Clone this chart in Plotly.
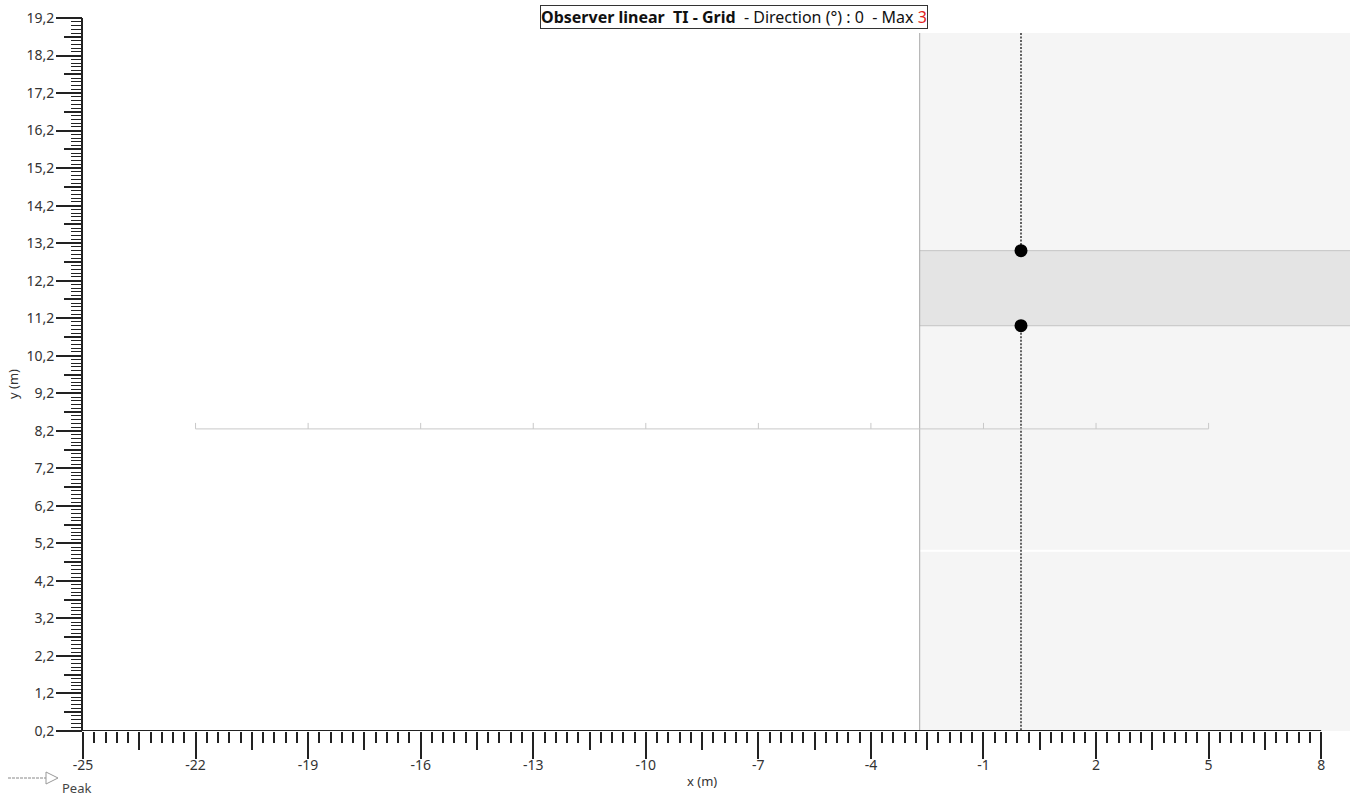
import numpy as np
import plotly.graph_objects as go

# ---------------- data ----------------
x_major = [-25, -22, -19, -16, -13, -10, -7, -4, -1, 2, 5, 8]
y_major = [0.2, 1.2, 2.2, 3.2, 4.2, 5.2, 6.2, 7.2, 8.2, 9.2, 10.2, 11.2, 12.2,
           13.2, 14.2, 15.2, 16.2, 17.2, 18.2, 19.2]
y_labels = [f"{v:.1f}".replace(".", ",") for v in y_major]
x_labels = [str(v) for v in x_major]

observer_x = [0, 0]
observer_y = [11, 13]
peak_lines_lower = [11, 0.2]
peak_lines_upper = [18.8, 13]

zone_x0 = -2.7
zone_y = [0.2, 18.8]
band_y = [11, 13]
white_line_y = 5
ruler_x = [-22, 5]
ruler_y = 8.25
ruler_ticks = [-22, -19, -16, -13, -10, -7, -4, -1, 2, 5]

# ---------------- geometry ----------------
W, H = 1350, 796
ML, MR, MT, MB = 83, 0, 18, 65
PW = W - ML - MR
PH = H - MT - MB
XR = [-25, -25 + PW / 37.52]
YR = [0.2, 19.2]

x_minor = [round(v, 2) for v in np.arange(-25, 8.001, 0.3)]
x_mid = [round(v + 1.5, 2) for v in x_major[:-1]]
y_minor = [round(v, 2) for v in np.arange(0.2, 19.201, 0.1)]
y_mid = [round(v + 0.5, 2) for v in y_major[:-1]]

AX = "#222222"
FONT = "Noto Sans"
CLEAR = "rgba(0,0,0,0)"


def px(xpix):
    return (xpix - ML) / PW


def py(ypix):
    return (H - MB - ypix) / PH


fig = go.Figure()

# dashed "peak" lines
for seg in (peak_lines_upper, peak_lines_lower):
    fig.add_trace(go.Scatter(x=observer_x, y=seg, mode="lines",
                             line=dict(color="black", width=1.2, dash="2px,1.5px"),
                             hoverinfo="skip", showlegend=False))

# observer points
fig.add_trace(go.Scatter(x=observer_x, y=observer_y, mode="markers",
                         marker=dict(color="black", size=13),
                         hoverinfo="skip", showlegend=False))

# ruler
fig.add_trace(go.Scatter(x=ruler_x, y=[ruler_y, ruler_y], mode="lines",
                         line=dict(color="#c8c8c8", width=1),
                         hoverinfo="skip", showlegend=False))
rtx, rty = [], []
for t in ruler_ticks:
    rtx += [t, t, None]
    rty += [ruler_y, ruler_y + 0.16, None]
fig.add_trace(go.Scatter(x=rtx, y=rty, mode="lines",
                         line=dict(color="#c8c8c8", width=1),
                         hoverinfo="skip", showlegend=False))

# dummy traces for overlay axes
fig.add_trace(go.Scatter(x=[], y=[], xaxis="x2", yaxis="y", showlegend=False))
fig.add_trace(go.Scatter(x=[], y=[], xaxis="x3", yaxis="y", showlegend=False))
fig.add_trace(go.Scatter(x=[], y=[], xaxis="x", yaxis="y2", showlegend=False))
fig.add_trace(go.Scatter(x=[], y=[], xaxis="x", yaxis="y3", showlegend=False))

shapes = [
    dict(type="rect", xref="x", yref="y", x0=zone_x0, x1=XR[1], y0=zone_y[0], y1=zone_y[1],
         fillcolor="#f5f5f5", line=dict(width=0), layer="below"),
    dict(type="rect", xref="x", yref="y", x0=zone_x0, x1=XR[1], y0=band_y[0], y1=band_y[1],
         fillcolor="#e4e4e4", line=dict(width=0), layer="below"),
    dict(type="line", xref="x", yref="y", x0=zone_x0, x1=XR[1], y0=band_y[0], y1=band_y[0],
         line=dict(color="#c4c4c4", width=1), layer="below"),
    dict(type="line", xref="x", yref="y", x0=zone_x0, x1=XR[1], y0=band_y[1], y1=band_y[1],
         line=dict(color="#c4c4c4", width=1), layer="below"),
    dict(type="line", xref="x", yref="y", x0=zone_x0, x1=XR[1], y0=white_line_y, y1=white_line_y,
         line=dict(color="#ffffff", width=2), layer="below"),
    dict(type="line", xref="x", yref="y", x0=zone_x0, x1=zone_x0, y0=zone_y[0], y1=zone_y[1],
         line=dict(color="#a8a8a8", width=1), layer="below"),
    # x axis line (ends at last major tick)
    dict(type="line", xref="x", yref="y", x0=x_major[0], x1=x_major[-1], y0=YR[0], y1=YR[0],
         line=dict(color=AX, width=2), layer="above"),
    # Peak legend
    dict(type="line", xref="paper", yref="paper", x0=px(8), x1=px(46), y0=py(778), y1=py(778),
         line=dict(color="#888888", width=1, dash="3px,1px")),
    dict(type="path", xref="paper", yref="paper",
         path=f"M {px(46)},{py(772)} L {px(58)},{py(778)} L {px(46)},{py(784)} Z",
         line=dict(color="#999999", width=1), fillcolor="white"),
]

annotations = [
    dict(xref="paper", yref="paper", x=px(734), y=py(17), xanchor="center", yanchor="middle",
         text="<b>Observer linear\u00a0\u00a0TI - Grid</b>\u00a0\u00a0- Direction (°) : 0\u00a0\u00a0- Max "
              "<span style='color:#e02020'>3</span>",
         showarrow=False, font=dict(size=16, color="#111111", family=FONT),
         bordercolor="#333333", borderwidth=1, borderpad=0, bgcolor="white"),
    dict(xref="paper", yref="paper", x=px(702), y=py(781), xanchor="center", yanchor="middle",
         text="x (m)", showarrow=False, font=dict(size=13, color="#333333", family=FONT)),
    dict(xref="paper", yref="paper", x=px(13), y=py(384), xanchor="center", yanchor="middle",
         text="y (m)", textangle=-90, showarrow=False, font=dict(size=13, color="#333333", family=FONT)),
    dict(xref="paper", yref="paper", x=px(60), y=py(788), xanchor="left", yanchor="middle",
         text="Peak", showarrow=False, font=dict(size=13, color="#444444", family=FONT)),
]

common = dict(showgrid=False, zeroline=False, showline=False, fixedrange=True)

fig.update_layout(
    width=W, height=H,
    margin=dict(l=ML, r=MR, t=MT, b=MB),
    paper_bgcolor="white", plot_bgcolor="white",
    font=dict(family=FONT, size=14, color="#333333"),
    showlegend=False,
    shapes=shapes, annotations=annotations,
    # main x axis: labels + minor ticks (transparent major ticks to position labels)
    xaxis=dict(range=XR, **common,
               tickmode="array", tickvals=x_major, ticktext=x_labels,
               ticks="outside", ticklen=21, tickwidth=2, tickcolor=CLEAR,
               tickfont=dict(size=14, color="#333333", family=FONT),
               minor=dict(tickmode="array", tickvals=x_minor, ticks="outside",
                          ticklen=11, tickwidth=2, tickcolor=AX, showgrid=False)),
    xaxis2=dict(range=XR, overlaying="x", anchor="y", side="bottom", **common,
                tickmode="array", tickvals=x_mid, showticklabels=False,
                ticks="outside", ticklen=18, tickwidth=2, tickcolor=AX),
    xaxis3=dict(range=XR, overlaying="x", anchor="y", side="bottom", **common,
                tickmode="array", tickvals=x_major, showticklabels=False,
                ticks="outside", ticklen=27, tickwidth=2, tickcolor=AX),
    yaxis=dict(range=YR, showgrid=False, zeroline=False, showline=True,
               linecolor=AX, linewidth=2, fixedrange=True,
               tickmode="array", tickvals=y_major, ticktext=y_labels,
               ticks="outside", ticklen=24, tickwidth=2, tickcolor=CLEAR,
               tickfont=dict(size=14, color="#333333", family=FONT),
               minor=dict(tickmode="array", tickvals=y_minor, ticks="outside",
                          ticklen=10, tickwidth=1, tickcolor=AX, showgrid=False)),
    yaxis2=dict(range=YR, overlaying="y", anchor="x", side="left", **common,
                tickmode="array", tickvals=y_mid, showticklabels=False,
                ticks="outside", ticklen=18, tickwidth=2, tickcolor=AX),
    yaxis3=dict(range=YR, overlaying="y", anchor="x", side="left", **common,
                tickmode="array", tickvals=y_major, showticklabels=False,
                ticks="outside", ticklen=26, tickwidth=2, tickcolor=AX),
)

fig.write_html("out.html", config={"displayModeBar": False},
               post_script="document.body.style.margin='0';document.body.style.overflow='hidden';")
